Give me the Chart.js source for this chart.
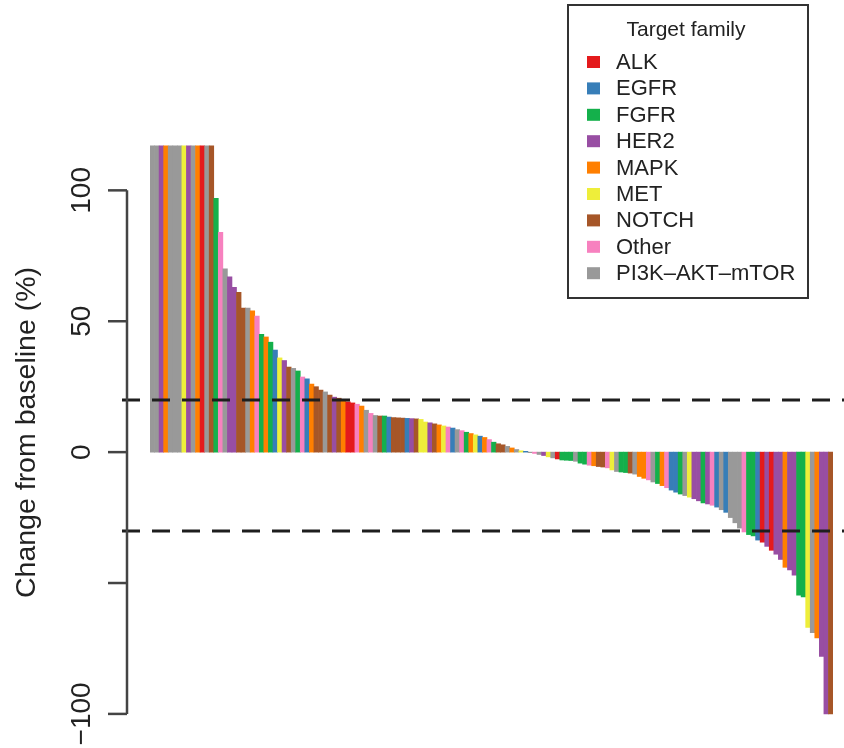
<!DOCTYPE html>
<html>
<head>
<meta charset="utf-8">
<script src="https://cdn.jsdelivr.net/npm/chart.js@4.4.0/dist/chart.umd.min.js"></script>
<style>
  body { margin: 0; background: #fff; }
  #wrap { width: 844px; height: 748px; position: relative; }
</style>
</head>
<body>
<div id="wrap"><canvas id="myChart"></canvas></div>
<script>
//===================== DATA ==========================
const family_codes  = ['ALK', 'EGFR', 'FGFR', 'HER2', 'MAPK', 'MET', 'NOTCH', 'Other', 'PI3K'];
const family_labels = ['ALK', 'EGFR', 'FGFR', 'HER2', 'MAPK', 'MET', 'NOTCH', 'Other', 'PI3K\u2013AKT\u2013mTOR'];
const family_colors = ['#e41a1c', '#377eb8', '#14b04b', '#984ea3', '#ff7f00', '#eeee3a', '#a65628', '#f781bf', '#999999'];

// best % change per patient, sorted (values above the cap drawn at 117)
const change_values = [
  117, 117, 117, 117, 117, 117, 117, 117, 117, 117, 117, 117, 117, 117,
  97, 84, 70, 67, 63, 61, 55, 55, 54, 52, 45, 44, 42, 39, 36, 35,
  32.5, 32, 31, 28.7, 28, 26, 25, 23.7, 23, 21.8, 21, 20.6, 20, 19.2, 18.8,
  18.3, 17.6, 16, 14.8, 14, 13.8, 13.8, 13.4, 13.2, 13.1, 13, 12.9, 12.8, 12.7, 12.5,
  11.5, 11.2, 10.8, 10.4, 10, 9.6, 9.2, 8.6, 8.2, 7.6, 7.1, 6.6, 6.1, 5.6, 4.8, 3.8,
  3.2, 2.8, 2.2, 1.6, 1.0, 0.5, 0.3, -0.2, -0.5, -0.9, -1.3, -1.8, -2.2, -2.6, -3,
  -3.1, -3.2, -3.5, -4.2, -4.6, -5, -5.2, -5.5, -5.7, -6, -6.8, -7.4, -7.6, -7.8, -8, -8.4,
  -9.3, -10, -10.6, -11.4, -12, -12.8, -13.6, -14.5, -15.3, -16, -16.6, -17.2, -17.8, -18.6, -19.4,
  -19.8, -20.3, -21, -22, -23, -25, -27, -29, -30.5, -31.5, -32, -33.6, -34.4, -36,
  -37.5, -39, -41, -44, -45, -47, -54.6, -55.3, -67, -69, -71, -78, -100, -100
];

const patient_family = [
  'PI3K', 'PI3K', 'HER2', 'MAPK', 'PI3K', 'PI3K', 'PI3K', 'MET', 'HER2', 'PI3K', 'MAPK', 'ALK', 'PI3K', 'NOTCH',
  'FGFR', 'Other', 'PI3K', 'HER2', 'HER2', 'NOTCH', 'NOTCH', 'PI3K', 'MAPK', 'Other', 'FGFR', 'MAPK', 'FGFR', 'EGFR', 'MET', 'HER2',
  'NOTCH', 'PI3K', 'FGFR', 'Other', 'EGFR', 'MAPK', 'NOTCH', 'NOTCH', 'PI3K', 'NOTCH', 'HER2', 'NOTCH', 'MAPK', 'ALK', 'ALK',
  'Other', 'MAPK', 'PI3K', 'Other', 'PI3K', 'NOTCH', 'FGFR', 'EGFR', 'NOTCH', 'NOTCH', 'NOTCH', 'EGFR', 'HER2', 'NOTCH', 'MET',
  'MET', 'HER2', 'NOTCH', 'MAPK', 'MET', 'Other', 'EGFR', 'PI3K', 'Other', 'FGFR', 'MAPK', 'MET', 'EGFR', 'MAPK', 'Other', 'FGFR',
  'NOTCH', 'NOTCH', 'PI3K', 'MAPK', 'PI3K', 'MET', 'EGFR', 'PI3K', 'Other', 'PI3K', 'HER2', 'MET', 'PI3K', 'ALK', 'FGFR',
  'FGFR', 'FGFR', 'PI3K', 'FGFR', 'FGFR', 'Other', 'MAPK', 'NOTCH', 'NOTCH', 'Other', 'MET', 'PI3K', 'FGFR', 'FGFR', 'NOTCH', 'PI3K',
  'MAPK', 'MAPK', 'Other', 'PI3K', 'FGFR', 'MAPK', 'Other', 'EGFR', 'EGFR', 'FGFR', 'PI3K', 'MET', 'HER2', 'HER2', 'FGFR',
  'HER2', 'Other', 'EGFR', 'PI3K', 'EGFR', 'PI3K', 'PI3K', 'PI3K', 'Other', 'FGFR', 'FGFR', 'EGFR', 'ALK', 'HER2',
  'ALK', 'HER2', 'HER2', 'MAPK', 'HER2', 'HER2', 'FGFR', 'FGFR', 'MET', 'PI3K', 'MAPK', 'HER2', 'HER2', 'NOTCH'
];

const y_ticks       = [100, 50, 0, -50, -100];
const y_tick_labels = ['100', '50', '0', '', '\u2212100'];
const ref_lines     = [20, -30];
const y_title       = 'Change from baseline (%)';
const legend_title  = 'Target family';

//===================== CHART ==========================
const patients = change_values.map((v, i) => i + 1);
const bar_colors = patient_family.map(f => family_colors[family_codes.indexOf(f)]);

const FONT = '"Liberation Sans", Arial, Helvetica, sans-serif';

const waterfall_decor = {
  id: 'waterfall_decor',
  afterDatasetsDraw(chart) {
    const {ctx, chartArea} = chart;
    const y = chart.scales.y;
    ctx.save();

    // dashed response thresholds
    ctx.strokeStyle = '#1e1e1e';
    ctx.lineWidth = 3;
    ctx.setLineDash([18, 12]);
    ref_lines.forEach(v => {
      const py = Math.round(y.getPixelForValue(v));
      ctx.beginPath();
      ctx.moveTo(122, py);
      ctx.lineTo(844, py);
      ctx.stroke();
    });
    ctx.setLineDash([]);

    // R style y axis
    const ax = 127;
    ctx.strokeStyle = '#444';
    ctx.lineWidth = 2.5;
    ctx.beginPath();
    ctx.moveTo(ax, y.getPixelForValue(y_ticks[0]));
    ctx.lineTo(ax, y.getPixelForValue(y_ticks[y_ticks.length - 1]));
    ctx.stroke();
    ctx.fillStyle = '#222';
    ctx.font = '28px ' + FONT;
    ctx.textAlign = 'center';
    ctx.textBaseline = 'middle';
    y_ticks.forEach((v, i) => {
      const py = y.getPixelForValue(v);
      ctx.beginPath();
      ctx.moveTo(108, py);
      ctx.lineTo(ax, py);
      ctx.stroke();
      if (y_tick_labels[i]) {
        ctx.save();
        ctx.translate(82, py);
        ctx.rotate(-Math.PI / 2);
        ctx.fillText(y_tick_labels[i], 0, 0);
        ctx.restore();
      }
    });

    // axis title
    ctx.save();
    ctx.font = '28.5px ' + FONT;
    ctx.translate(27, (chartArea.top + chartArea.bottom) / 2);
    ctx.rotate(-Math.PI / 2);
    ctx.fillText(y_title, 0, 0);
    ctx.restore();

    // legend box
    ctx.fillStyle = '#fff';
    ctx.fillRect(568, 5, 240, 293);
    ctx.strokeStyle = '#333';
    ctx.lineWidth = 2;
    ctx.strokeRect(568, 5, 240, 293);
    ctx.fillStyle = '#222';
    ctx.font = '21px ' + FONT;
    ctx.textAlign = 'center';
    ctx.fillText(legend_title, 686, 30);
    ctx.font = '22px ' + FONT;
    ctx.textAlign = 'left';
    family_labels.forEach((lab, i) => {
      const ly = 62 + i * 26.4;
      ctx.fillStyle = family_colors[i];
      ctx.fillRect(587, ly - 6, 13, 12);
      ctx.fillStyle = '#222';
      ctx.fillText(lab, 616, ly + 1);
    });

    ctx.restore();
  }
};

const ctx = document.getElementById('myChart');

const myChart = new Chart(ctx, {
  type: 'bar',
  data: {
    labels: patients,
    datasets: [{
      label: 'Change from baseline',
      data: change_values,
      backgroundColor: bar_colors,
      borderWidth: 0,
      barPercentage: 1.0,
      categoryPercentage: 1.0
    }]
  },
  options: {
    responsive: true,
    maintainAspectRatio: false,
    animation: false,
    layout: { padding: { left: 150, right: 11, top: 138, bottom: 21 } },
    plugins: { legend: { display: false }, tooltip: { enabled: false } },
    scales: {
      x: { display: false },
      y: { display: false, min: -105, max: 120 }
    }
  },
  plugins: [waterfall_decor]
});
</script>
</body>
</html>
